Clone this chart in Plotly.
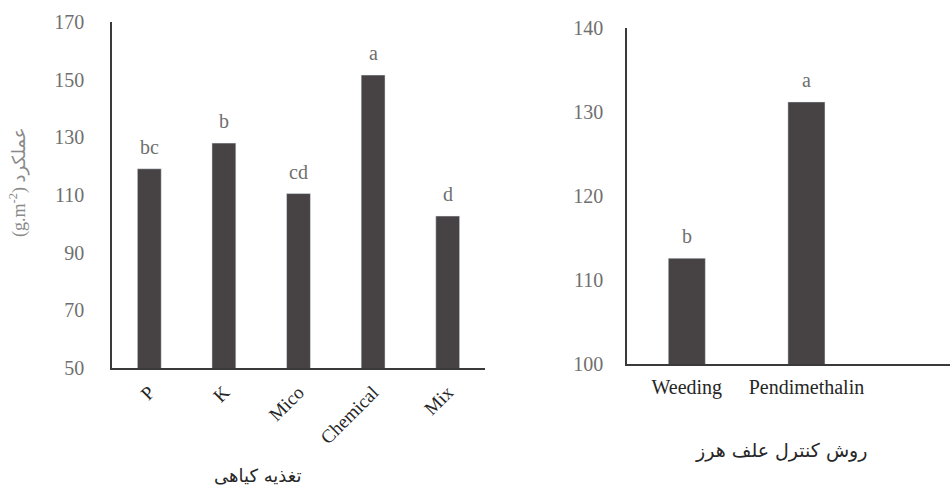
import plotly.graph_objects as go

# Left chart data (plant nutrition)
nutr_cats = ["P", "K", "Mico", "Chemical", "Mix"]
nutr_vals = [119.1, 128.0, 110.5, 151.6, 102.7]
nutr_letters = ["bc", "b", "cd", "a", "d"]

# Right chart data (weed control method)
weed_cats = ["Weeding", "Pendimethalin"]
weed_vals = [112.6, 131.2]
weed_letters = ["b", "a"]

left_ticks = [50, 70, 90, 110, 130, 150, 170]
right_ticks = [100, 110, 120, 130, 140]

BAR = "#474344"
AXIS = "#3a3a3a"
TICK = "#6f6f6f"
CAT = "#262626"
SERIF = "Liberation Serif, Times New Roman, serif"
AR = "DejaVu Sans, Noto Sans, sans-serif"

fig = go.Figure()
fig.add_trace(go.Bar(x=nutr_cats, y=nutr_vals, marker_color=BAR, width=0.32,
                     xaxis="x", yaxis="y", showlegend=False, hoverinfo="skip"))
fig.add_trace(go.Bar(x=weed_cats, y=weed_vals, marker_color=BAR, width=0.31,
                     xaxis="x2", yaxis="y2", showlegend=False, hoverinfo="skip"))

annotations = []
for c, v, t in zip(nutr_cats, nutr_vals, nutr_letters):
    annotations.append(dict(x=c, y=v, xref="x", yref="y", text=t, showarrow=False,
                            xanchor="center", yanchor="bottom", yshift=9,
                            font=dict(family=SERIF, size=20, color=TICK)))
for c, v, t in zip(weed_cats, weed_vals, weed_letters):
    annotations.append(dict(x=c, y=v, xref="x2", yref="y2", text=t, showarrow=False,
                            xanchor="center", yanchor="bottom", yshift=9,
                            font=dict(family=SERIF, size=20, color=TICK)))

annotations.append(dict(x=258/951, y=(491-475)/491, xref="paper", yref="paper",
                        xanchor="center", yanchor="middle",
                        text="تغذیه کیاهی", showarrow=False,
                        font=dict(family=AR, size=18, color=CAT)))
annotations.append(dict(x=781/951, y=(491-450)/491, xref="paper", yref="paper",
                        xanchor="center", yanchor="middle",
                        text="روش کنترل علف هرز", showarrow=False,
                        font=dict(family=AR, size=19, color=CAT)))
annotations.append(dict(x=18/951, y=(491-182)/491, xref="paper", yref="paper",
                        xanchor="center", yanchor="middle",
                        text="(g.m<sup>-2</sup>) عملکرد", showarrow=False, textangle=-90,
                        font=dict(family=SERIF + ", DejaVu Sans", size=18, color="#8a8a8a")))

fig.update_layout(
    width=951, height=491,
    margin=dict(l=0, r=0, t=0, b=0, autoexpand=False),
    paper_bgcolor="white", plot_bgcolor="white",
    bargap=0.5,
    xaxis=dict(domain=[112/951, 485/951], anchor="y", range=[-0.5, 4.5],
               showline=True, linecolor=AXIS, linewidth=1.5, showgrid=False,
               tickangle=-45, ticks="", ticklabelstandoff=4, automargin=False,
               tickfont=dict(family=SERIF, size=19, color=CAT)),
    yaxis=dict(domain=[(491-368)/491, (491-22)/491], anchor="x", range=[50, 170],
               tickvals=left_ticks, showline=True, linecolor=AXIS, linewidth=1.5,
               showgrid=False, zeroline=False, ticks="", ticklabelstandoff=22,
               automargin=False,
               tickfont=dict(family=SERIF, size=20, color=TICK)),
    xaxis2=dict(domain=[627/951, 950/951], anchor="y2", range=[-0.5, 2.2],
                showline=True, linecolor=AXIS, linewidth=1.5, showgrid=False,
                ticks="", ticklabelstandoff=4, automargin=False,
                tickfont=dict(family=SERIF, size=20, color=CAT)),
    yaxis2=dict(domain=[(491-364)/491, (491-28)/491], anchor="x2", range=[100, 140],
                tickvals=right_ticks, showline=True, linecolor=AXIS, linewidth=1.5,
                showgrid=False, zeroline=False, ticks="", ticklabelstandoff=18,
                automargin=False,
                tickfont=dict(family=SERIF, size=20, color=TICK)),
    annotations=annotations,
)

fig.write_html("out.html", config={"displayModeBar": False},
               post_script="document.body.style.margin='0';")
